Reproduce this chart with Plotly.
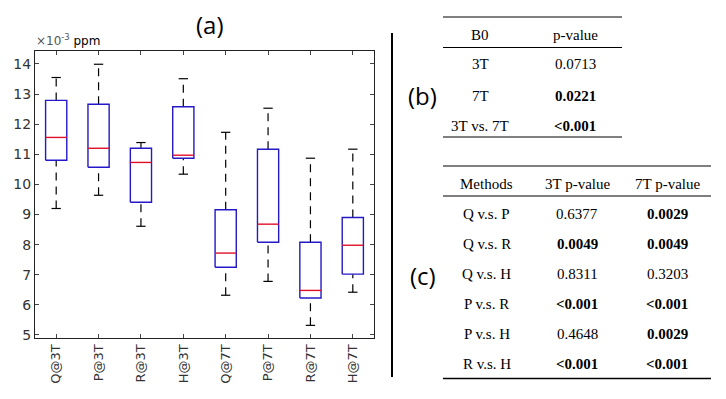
import plotly.graph_objects as go

W, H = 726, 399

# ---------------- data ----------------
groups = ["Q@3T", "P@3T", "R@3T", "H@3T", "Q@7T", "P@7T", "R@7T", "H@7T"]
lower_whisker = [9.20, 9.64, 8.61, 10.34, 6.32, 6.78, 5.32, 6.42]
q1 = [10.80, 10.57, 9.41, 10.87, 7.25, 8.08, 6.23, 7.02]
median = [11.56, 11.20, 10.73, 10.97, 7.72, 8.68, 6.48, 7.98]
q3 = [12.79, 12.66, 11.20, 12.58, 9.16, 11.17, 8.08, 8.90]
upper_whisker = [13.55, 13.99, 11.39, 13.51, 11.73, 12.53, 10.87, 11.17]
y_ticks = [5, 6, 7, 8, 9, 10, 11, 12, 13, 14]

table_b_header = ["B0", "p-value"]
table_b_rows = ["3T", "7T", "3T vs. 7T"]
table_b_pvals = ["0.0713", "0.0221", "&lt;0.001"]
table_b_bold = [False, True, True]

table_c_header = ["Methods", "3T p-value", "7T p-value"]
table_c_rows = ["Q v.s. P", "Q v.s. R", "Q v.s. H", "P v.s. R", "P v.s. H", "R v.s. H"]
table_c_3t = ["0.6377", "0.0049", "0.8311", "&lt;0.001", "0.4648", "&lt;0.001"]
table_c_3t_bold = [False, True, False, True, False, True]
table_c_7t = ["0.0029", "0.0049", "0.3203", "&lt;0.001", "0.0029", "&lt;0.001"]
table_c_7t_bold = [True, True, False, True, True, True]

# ---------------- helpers ----------------
def px(x):
    return x / W

def py(y):
    return 1 - y / H

BLUE = "#2418c8"
RED = "#e0102a"
BOX_HALF = 0.25
CAP_HALF = 0.11

xs = list(range(1, len(groups) + 1))

fig = go.Figure()

# whiskers (dashed)
wx, wy = [], []
for i, x in enumerate(xs):
    wx += [x, x, None, x, x, None]
    wy += [q3[i], upper_whisker[i], None, lower_whisker[i], q1[i], None]
fig.add_trace(go.Scatter(x=wx, y=wy, mode="lines",
                         line=dict(color="black", width=1.2, dash="8px,6px"),
                         hoverinfo="skip", showlegend=False))
# caps
cx, cy = [], []
for i, x in enumerate(xs):
    cx += [x - CAP_HALF, x + CAP_HALF, None, x - CAP_HALF, x + CAP_HALF, None]
    cy += [upper_whisker[i], upper_whisker[i], None, lower_whisker[i], lower_whisker[i], None]
fig.add_trace(go.Scatter(x=cx, y=cy, mode="lines",
                         line=dict(color="black", width=1.2),
                         hoverinfo="skip", showlegend=False))
# boxes
bx, by = [], []
for i, x in enumerate(xs):
    bx += [x - BOX_HALF, x + BOX_HALF, x + BOX_HALF, x - BOX_HALF, x - BOX_HALF, None]
    by += [q1[i], q1[i], q3[i], q3[i], q1[i], None]
fig.add_trace(go.Scatter(x=bx, y=by, mode="lines",
                         line=dict(color=BLUE, width=1.4),
                         hoverinfo="skip", showlegend=False))
# medians
mx, my = [], []
for i, x in enumerate(xs):
    mx += [x - BOX_HALF, x + BOX_HALF, None]
    my += [median[i], median[i], None]
fig.add_trace(go.Scatter(x=mx, y=my, mode="lines",
                         line=dict(color=RED, width=1.4),
                         hoverinfo="skip", showlegend=False))

axis_font = dict(family="DejaVu Sans", size=13, color="#333333")
fig.update_xaxes(domain=[px(35), px(374)], range=[0.5, 8.5], automargin=False,
                 tickvals=xs, ticktext=groups, tickangle=-90,
                 ticks="inside", ticklen=4, mirror="allticks",
                 showline=True, linecolor="#222", linewidth=1,
                 showgrid=False, zeroline=False, tickfont=axis_font)
fig.update_yaxes(domain=[py(338), py(51)], range=[4.9, 14.43], automargin=False,
                 tickvals=y_ticks, ticks="inside", ticklen=4, mirror="allticks",
                 showline=True, linecolor="#222", linewidth=1,
                 showgrid=False, zeroline=False,
                 tickfont=dict(family="DejaVu Sans", size=14, color="#333333"))

ann = []
shapes = []

def add_text(x, y, text, font, xanchor="center"):
    ann.append(dict(x=px(x), y=py(y), xref="paper", yref="paper", text=text,
                    showarrow=False, font=font, xanchor=xanchor, yanchor="middle"))

# panel labels
label_font = dict(family="Open Sans", size=24, color="black", weight=500)
add_text(210, 25, "(a)", label_font)
add_text(423, 95, "(b)", label_font)
add_text(423, 275, "(c)", label_font)
# exponent label
add_text(34, 40, "<span style='color:#555'>×10<sup>-3</sup></span> ppm",
         dict(family="DejaVu Sans", size=12, color="black"), xanchor="left")

def hline(x0, x1, y, color, width):
    shapes.append(dict(type="line", xref="paper", yref="paper", x0=px(x0), x1=px(x1),
                       y0=py(y), y1=py(y), line=dict(color=color, width=width)))

# separator
shapes.append(dict(type="line", xref="paper", yref="paper", x0=px(392), x1=px(392),
                   y0=py(33), y1=py(377), line=dict(color="black", width=2)))

tfont = dict(family="Liberation Serif", size=15, color="black")

def fmt(t, bold):
    return f"<b>{t}</b>" if bold else t

# table (b)
hline(443, 622, 17, "#808080", 2)
hline(443, 622, 47.5, "black", 1)
hline(443, 622, 137, "#808080", 2)
b_cols = [480, 575]
for j, h in enumerate(table_b_header):
    add_text(b_cols[j], 35, h, tfont)
b_row_y = [64, 96, 126]
for i, r in enumerate(table_b_rows):
    add_text(b_cols[0], b_row_y[i], r, tfont)
    add_text(b_cols[1], b_row_y[i], fmt(table_b_pvals[i], table_b_bold[i]), tfont)

# table (c)
hline(443, 711, 166, "#808080", 2)
hline(443, 711, 196, "black", 1)
hline(443, 711, 378.5, "black", 1.5)
c_cols = [487, 577, 667]
for j, h in enumerate(table_c_header):
    add_text(c_cols[j], 184, h, tfont)
c_row_y = [214, 243.5, 273.5, 303.5, 333.5, 363.5]
for i, r in enumerate(table_c_rows):
    add_text(c_cols[0], c_row_y[i], r, tfont)
    add_text(c_cols[1], c_row_y[i], fmt(table_c_3t[i], table_c_3t_bold[i]), tfont)
    add_text(c_cols[2], c_row_y[i], fmt(table_c_7t[i], table_c_7t_bold[i]), tfont)

fig.update_layout(width=W, height=H, margin=dict(l=0, r=0, t=0, b=0, pad=0, autoexpand=False),
                  paper_bgcolor="white", plot_bgcolor="white",
                  annotations=ann, shapes=shapes, showlegend=False)

fig.write_html("out.html", config={"displayModeBar": False},
               post_script="document.body.style.margin='0px';")
